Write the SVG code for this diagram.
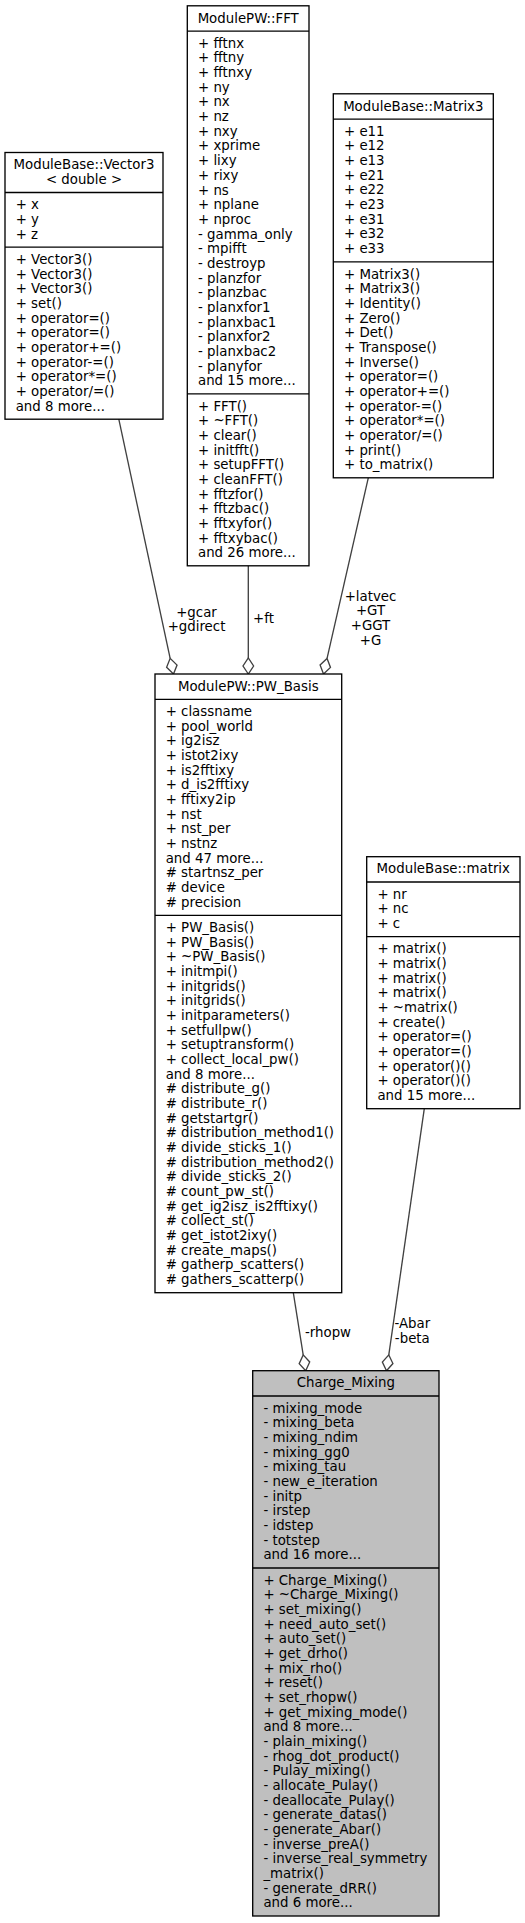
<svg xmlns="http://www.w3.org/2000/svg" width="525" height="1923" viewBox="0 0 525 1923">
<style>
.bg{fill:#ffffff}
.box{fill:#ffffff;stroke:#000000;stroke-width:1.33}
.root{fill:#bfbfbf;stroke:#000000;stroke-width:1.33}
.sep{stroke:#000000;stroke-width:1.33}
.t{font-family:"DejaVu Sans","Liberation Sans",sans-serif;font-size:13.33px;fill:#000000}
.c{text-anchor:middle}
.edge{stroke:#404040;stroke-width:1.33;fill:none}
.dia{fill:#ffffff;stroke:#404040;stroke-width:1.33}
</style>
<rect class="bg" x="0" y="0" width="525" height="1923"/>

<g id="connectors">
  <path class="edge" d="M118.8,419.2 L170.16,658.35"/>
  <polygon class="dia" points="173.5,674 166.62,667.29 170.16,658.35 177.04,665.07"/>
  <text class="t c" x="196.5" y="616.5">+gcar</text>
  <text class="t c" x="196.5" y="631.2">+gdirect</text>

  <path class="edge" d="M248.3,565.8 L248.3,658"/>
  <polygon class="dia" points="248.3,674 243,666 248.3,658 253.6,666"/>
  <text class="t c" x="263.5" y="623">+ft</text>

  <path class="edge" d="M368.3,477.8 L327.06,658.4"/>
  <polygon class="dia" points="323.5,674 320.08,665.01 327.06,658.4 330.48,667.39"/>
  <text class="t c" x="370.5" y="600.5">+latvec</text>
  <text class="t c" x="370.5" y="615.2">+GT</text>
  <text class="t c" x="370.5" y="629.8">+GGT</text>
  <text class="t c" x="370.5" y="644.5">+G</text>

  <path class="edge" d="M293.3,1292.7 L303.19,1354.9"/>
  <polygon class="dia" points="305.7,1370.7 299.18,1363.64 303.19,1354.9 309.7,1361.96"/>
  <text class="t c" x="328" y="1336.5">-rhopw</text>

  <path class="edge" d="M424.3,1108.7 L388.79,1354.86"/>
  <polygon class="dia" points="386.5,1370.7 382.36,1362.02 388.79,1354.86 392.92,1363.54"/>
  <text class="t c" x="412.3" y="1328">-Abar</text>
  <text class="t c" x="412.3" y="1342.7">-beta</text>
</g>

<g id="Vector3">
  <rect class="box" x="5" y="152.5" width="158" height="266.7"/>
  <line class="sep" x1="5" y1="192.5" x2="163" y2="192.5"/>
  <line class="sep" x1="5" y1="247.2" x2="163" y2="247.2"/>
  <text class="t c" x="84" y="169.2">ModuleBase::Vector3<tspan x="84" dy="14.67">&lt; double &gt;</tspan></text>
  <text class="t" x="15.7" y="209.2">+ x<tspan x="15.7" dy="14.67">+ y</tspan><tspan x="15.7" dy="14.67">+ z</tspan></text>
  <text class="t" x="15.7" y="263.9">+ Vector3()<tspan x="15.7" dy="14.67">+ Vector3()</tspan><tspan x="15.7" dy="14.67">+ Vector3()</tspan><tspan x="15.7" dy="14.67">+ set()</tspan><tspan x="15.7" dy="14.67">+ operator=()</tspan><tspan x="15.7" dy="14.67">+ operator=()</tspan><tspan x="15.7" dy="14.67">+ operator+=()</tspan><tspan x="15.7" dy="14.67">+ operator-=()</tspan><tspan x="15.7" dy="14.67">+ operator*=()</tspan><tspan x="15.7" dy="14.67">+ operator/=()</tspan><tspan x="15.7" dy="14.67">and 8 more...</tspan></text>
</g>

<g id="FFT">
  <rect class="box" x="187.3" y="5.8" width="121.7" height="560"/>
  <line class="sep" x1="187.3" y1="31.1" x2="309" y2="31.1"/>
  <line class="sep" x1="187.3" y1="393.8" x2="309" y2="393.8"/>
  <text class="t c" x="248.2" y="22.5">ModulePW::FFT</text>
  <text class="t" x="198" y="47.8">+ fftnx<tspan x="198" dy="14.67">+ fftny</tspan><tspan x="198" dy="14.67">+ fftnxy</tspan><tspan x="198" dy="14.67">+ ny</tspan><tspan x="198" dy="14.67">+ nx</tspan><tspan x="198" dy="14.67">+ nz</tspan><tspan x="198" dy="14.67">+ nxy</tspan><tspan x="198" dy="14.67">+ xprime</tspan><tspan x="198" dy="14.67">+ lixy</tspan><tspan x="198" dy="14.67">+ rixy</tspan><tspan x="198" dy="14.67">+ ns</tspan><tspan x="198" dy="14.67">+ nplane</tspan><tspan x="198" dy="14.67">+ nproc</tspan><tspan x="198" dy="14.67">- gamma_only</tspan><tspan x="198" dy="14.67">- mpifft</tspan><tspan x="198" dy="14.67">- destroyp</tspan><tspan x="198" dy="14.67">- planzfor</tspan><tspan x="198" dy="14.67">- planzbac</tspan><tspan x="198" dy="14.67">- planxfor1</tspan><tspan x="198" dy="14.67">- planxbac1</tspan><tspan x="198" dy="14.67">- planxfor2</tspan><tspan x="198" dy="14.67">- planxbac2</tspan><tspan x="198" dy="14.67">- planyfor</tspan><tspan x="198" dy="14.67">and 15 more...</tspan></text>
  <text class="t" x="198" y="410.5">+ FFT()<tspan x="198" dy="14.67">+ ~FFT()</tspan><tspan x="198" dy="14.67">+ clear()</tspan><tspan x="198" dy="14.67">+ initfft()</tspan><tspan x="198" dy="14.67">+ setupFFT()</tspan><tspan x="198" dy="14.67">+ cleanFFT()</tspan><tspan x="198" dy="14.67">+ fftzfor()</tspan><tspan x="198" dy="14.67">+ fftzbac()</tspan><tspan x="198" dy="14.67">+ fftxyfor()</tspan><tspan x="198" dy="14.67">+ fftxybac()</tspan><tspan x="198" dy="14.67">and 26 more...</tspan></text>
</g>

<g id="Matrix3">
  <rect class="box" x="333.3" y="93.8" width="160" height="384"/>
  <line class="sep" x1="333.3" y1="119.1" x2="493.3" y2="119.1"/>
  <line class="sep" x1="333.3" y1="261.8" x2="493.3" y2="261.8"/>
  <text class="t c" x="413.3" y="110.5">ModuleBase::Matrix3</text>
  <text class="t" x="344" y="135.8">+ e11<tspan x="344" dy="14.67">+ e12</tspan><tspan x="344" dy="14.67">+ e13</tspan><tspan x="344" dy="14.67">+ e21</tspan><tspan x="344" dy="14.67">+ e22</tspan><tspan x="344" dy="14.67">+ e23</tspan><tspan x="344" dy="14.67">+ e31</tspan><tspan x="344" dy="14.67">+ e32</tspan><tspan x="344" dy="14.67">+ e33</tspan></text>
  <text class="t" x="344" y="278.5">+ Matrix3()<tspan x="344" dy="14.67">+ Matrix3()</tspan><tspan x="344" dy="14.67">+ Identity()</tspan><tspan x="344" dy="14.67">+ Zero()</tspan><tspan x="344" dy="14.67">+ Det()</tspan><tspan x="344" dy="14.67">+ Transpose()</tspan><tspan x="344" dy="14.67">+ Inverse()</tspan><tspan x="344" dy="14.67">+ operator=()</tspan><tspan x="344" dy="14.67">+ operator+=()</tspan><tspan x="344" dy="14.67">+ operator-=()</tspan><tspan x="344" dy="14.67">+ operator*=()</tspan><tspan x="344" dy="14.67">+ operator/=()</tspan><tspan x="344" dy="14.67">+ print()</tspan><tspan x="344" dy="14.67">+ to_matrix()</tspan></text>
</g>

<g id="PW_Basis">
  <rect class="box" x="155" y="674" width="186.7" height="618.7"/>
  <line class="sep" x1="155" y1="699.3" x2="341.7" y2="699.3"/>
  <line class="sep" x1="155" y1="915.3" x2="341.7" y2="915.3"/>
  <text class="t c" x="248.3" y="690.7">ModulePW::PW_Basis</text>
  <text class="t" x="165.7" y="716">+ classname<tspan x="165.7" dy="14.67">+ pool_world</tspan><tspan x="165.7" dy="14.67">+ ig2isz</tspan><tspan x="165.7" dy="14.67">+ istot2ixy</tspan><tspan x="165.7" dy="14.67">+ is2fftixy</tspan><tspan x="165.7" dy="14.67">+ d_is2fftixy</tspan><tspan x="165.7" dy="14.67">+ fftixy2ip</tspan><tspan x="165.7" dy="14.67">+ nst</tspan><tspan x="165.7" dy="14.67">+ nst_per</tspan><tspan x="165.7" dy="14.67">+ nstnz</tspan><tspan x="165.7" dy="14.67">and 47 more...</tspan><tspan x="165.7" dy="14.67"># startnsz_per</tspan><tspan x="165.7" dy="14.67"># device</tspan><tspan x="165.7" dy="14.67"># precision</tspan></text>
  <text class="t" x="165.7" y="932">+ PW_Basis()<tspan x="165.7" dy="14.67">+ PW_Basis()</tspan><tspan x="165.7" dy="14.67">+ ~PW_Basis()</tspan><tspan x="165.7" dy="14.67">+ initmpi()</tspan><tspan x="165.7" dy="14.67">+ initgrids()</tspan><tspan x="165.7" dy="14.67">+ initgrids()</tspan><tspan x="165.7" dy="14.67">+ initparameters()</tspan><tspan x="165.7" dy="14.67">+ setfullpw()</tspan><tspan x="165.7" dy="14.67">+ setuptransform()</tspan><tspan x="165.7" dy="14.67">+ collect_local_pw()</tspan><tspan x="165.7" dy="14.67">and 8 more...</tspan><tspan x="165.7" dy="14.67"># distribute_g()</tspan><tspan x="165.7" dy="14.67"># distribute_r()</tspan><tspan x="165.7" dy="14.67"># getstartgr()</tspan><tspan x="165.7" dy="14.67"># distribution_method1()</tspan><tspan x="165.7" dy="14.67"># divide_sticks_1()</tspan><tspan x="165.7" dy="14.67"># distribution_method2()</tspan><tspan x="165.7" dy="14.67"># divide_sticks_2()</tspan><tspan x="165.7" dy="14.67"># count_pw_st()</tspan><tspan x="165.7" dy="14.67"># get_ig2isz_is2fftixy()</tspan><tspan x="165.7" dy="14.67"># collect_st()</tspan><tspan x="165.7" dy="14.67"># get_istot2ixy()</tspan><tspan x="165.7" dy="14.67"># create_maps()</tspan><tspan x="165.7" dy="14.67"># gatherp_scatters()</tspan><tspan x="165.7" dy="14.67"># gathers_scatterp()</tspan></text>
</g>

<g id="matrix">
  <rect class="box" x="366.7" y="856.7" width="153.3" height="252"/>
  <line class="sep" x1="366.7" y1="882" x2="520" y2="882"/>
  <line class="sep" x1="366.7" y1="936.7" x2="520" y2="936.7"/>
  <text class="t c" x="443.3" y="873.4">ModuleBase::matrix</text>
  <text class="t" x="377.4" y="898.7">+ nr<tspan x="377.4" dy="14.67">+ nc</tspan><tspan x="377.4" dy="14.67">+ c</tspan></text>
  <text class="t" x="377.4" y="953.4">+ matrix()<tspan x="377.4" dy="14.67">+ matrix()</tspan><tspan x="377.4" dy="14.67">+ matrix()</tspan><tspan x="377.4" dy="14.67">+ matrix()</tspan><tspan x="377.4" dy="14.67">+ ~matrix()</tspan><tspan x="377.4" dy="14.67">+ create()</tspan><tspan x="377.4" dy="14.67">+ operator=()</tspan><tspan x="377.4" dy="14.67">+ operator=()</tspan><tspan x="377.4" dy="14.67">+ operator()()</tspan><tspan x="377.4" dy="14.67">+ operator()()</tspan><tspan x="377.4" dy="14.67">and 15 more...</tspan></text>
</g>

<g id="Charge_Mixing">
  <rect class="root" x="252.7" y="1370.7" width="186.3" height="545.3"/>
  <line class="sep" x1="252.7" y1="1396" x2="439" y2="1396"/>
  <line class="sep" x1="252.7" y1="1568" x2="439" y2="1568"/>
  <text class="t c" x="345.85" y="1387.4">Charge_Mixing</text>
  <text class="t" x="263.4" y="1412.7">- mixing_mode<tspan x="263.4" dy="14.67">- mixing_beta</tspan><tspan x="263.4" dy="14.67">- mixing_ndim</tspan><tspan x="263.4" dy="14.67">- mixing_gg0</tspan><tspan x="263.4" dy="14.67">- mixing_tau</tspan><tspan x="263.4" dy="14.67">- new_e_iteration</tspan><tspan x="263.4" dy="14.67">- initp</tspan><tspan x="263.4" dy="14.67">- irstep</tspan><tspan x="263.4" dy="14.67">- idstep</tspan><tspan x="263.4" dy="14.67">- totstep</tspan><tspan x="263.4" dy="14.67">and 16 more...</tspan></text>
  <text class="t" x="263.4" y="1584.7">+ Charge_Mixing()<tspan x="263.4" dy="14.67">+ ~Charge_Mixing()</tspan><tspan x="263.4" dy="14.67">+ set_mixing()</tspan><tspan x="263.4" dy="14.67">+ need_auto_set()</tspan><tspan x="263.4" dy="14.67">+ auto_set()</tspan><tspan x="263.4" dy="14.67">+ get_drho()</tspan><tspan x="263.4" dy="14.67">+ mix_rho()</tspan><tspan x="263.4" dy="14.67">+ reset()</tspan><tspan x="263.4" dy="14.67">+ set_rhopw()</tspan><tspan x="263.4" dy="14.67">+ get_mixing_mode()</tspan><tspan x="263.4" dy="14.67">and 8 more...</tspan><tspan x="263.4" dy="14.67">- plain_mixing()</tspan><tspan x="263.4" dy="14.67">- rhog_dot_product()</tspan><tspan x="263.4" dy="14.67">- Pulay_mixing()</tspan><tspan x="263.4" dy="14.67">- allocate_Pulay()</tspan><tspan x="263.4" dy="14.67">- deallocate_Pulay()</tspan><tspan x="263.4" dy="14.67">- generate_datas()</tspan><tspan x="263.4" dy="14.67">- generate_Abar()</tspan><tspan x="263.4" dy="14.67">- inverse_preA()</tspan><tspan x="263.4" dy="14.67">- inverse_real_symmetry</tspan><tspan x="263.4" dy="14.67">_matrix()</tspan><tspan x="263.4" dy="14.67">- generate_dRR()</tspan><tspan x="263.4" dy="14.67">and 6 more...</tspan></text>
</g>
</svg>
